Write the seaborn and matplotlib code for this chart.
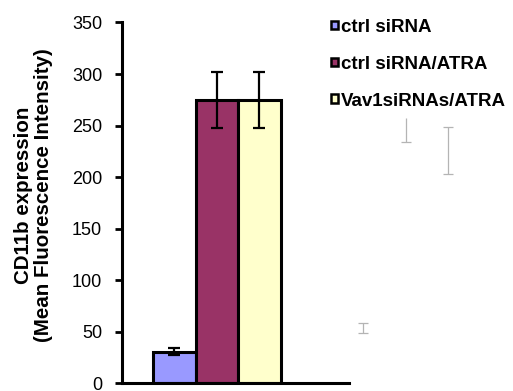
import numpy as np
import pandas as pd
import matplotlib
matplotlib.use("Agg")
import matplotlib.pyplot as plt
import seaborn as sns
from matplotlib.patches import Patch
from matplotlib.container import BarContainer

# ---- data ----
groups = ["A", "B"]
conditions = ["ctrl siRNA", "ctrl siRNA/ATRA", "Vav1siRNAs/ATRA"]
values_a = [31, 275, 275]
errors_a = [3.3, 27.4, 27.4]
# faint stray error marks of a hidden second group
gray_low = [49.0, 234.1, 203.0]
gray_high = [58.7, 257.3, 248.6]
gray_cap_low = [True, True, True]
gray_cap_high = [True, False, True]
colors = ["#9999FF", "#993366", "#FFFFCC"]
yticks = [0, 50, 100, 150, 200, 250, 300, 350]

df = pd.DataFrame({
    "group": ["A"] * 3 + ["B"] * 3,
    "condition": conditions * 2,
    "value": values_a + [(l + h) / 2 for l, h in zip(gray_low, gray_high)],
})

sns.set_style("white")
plt.rcParams["font.family"] = ["Liberation Sans", "DejaVu Sans"]
for k in ["text.color", "axes.labelcolor", "xtick.color", "ytick.color"]:
    plt.rcParams[k] = "black"

fig = plt.figure(figsize=(5.13, 3.91), dpi=100)
ax = fig.add_axes([0.2372, 0.0192, 0.4431, 0.9233])

sns.barplot(data=df, x="group", y="value", hue="condition", order=groups,
            hue_order=conditions, palette=colors, saturation=1, width=0.675, gap=0,
            errorbar=None, edgecolor="black", linewidth=2.2, legend=False, ax=ax)

bar_conts = [c for c in ax.containers if isinstance(c, BarContainer)]
for ci, cont in enumerate(bar_conts):
    bars = list(cont)
    b = bars[0]
    xc = b.get_x() + b.get_width() / 2
    ax.errorbar(xc, values_a[ci], yerr=errors_a[ci], fmt="none", ecolor="black",
                elinewidth=1.6, capsize=4.2, capthick=1.6, zorder=5)
    b2 = bars[1]
    b2.set_visible(False)
    xc2 = b2.get_x() + b2.get_width() / 2
    ax.vlines(xc2, gray_low[ci], gray_high[ci], color="#b4b4b4", lw=0.9, clip_on=False)
    if gray_cap_low[ci]:
        ax.plot([xc2], [gray_low[ci]], marker="_", ms=7.5, mew=0.9, color="#b4b4b4", clip_on=False)
    if gray_cap_high[ci]:
        ax.plot([xc2], [gray_high[ci]], marker="_", ms=7.5, mew=0.9, color="#b4b4b4", clip_on=False)

ax.set_xlim(-0.504, 0.699)
ax.set_ylim(0, 350)
ax.set_yticks(yticks)
ax.set_yticklabels([str(t) for t in yticks], fontsize=13)
ax.set_xticks([])
ax.set_xlabel("")
ax.set_ylabel("CD11b expression\n(Mean Fluorescence Intensity)", fontsize=14.8,
              fontweight="bold", linespacing=1.1)
ax.yaxis.set_label_coords(-0.30, 0.522)

for s in ["top", "right"]:
    ax.spines[s].set_visible(False)
for s in ["left", "bottom"]:
    ax.spines[s].set_color("black")
    ax.spines[s].set_linewidth(2.2)
ax.tick_params(axis="y", direction="out", length=5, width=2, color="black",
               left=True, pad=9, labelcolor="black")

handles = [Patch(facecolor=c, edgecolor="black", linewidth=1.8) for c in colors]
fig.legend(handles, conditions, loc="upper left", bbox_to_anchor=(0.645, 0.952),
           frameon=False, prop={"weight": "bold", "size": 13.5},
           handlelength=0.38, handleheight=0.34, handletextpad=0.15,
           labelspacing=1.06, borderaxespad=0, borderpad=0)

fig.savefig("out.png", dpi=100)
